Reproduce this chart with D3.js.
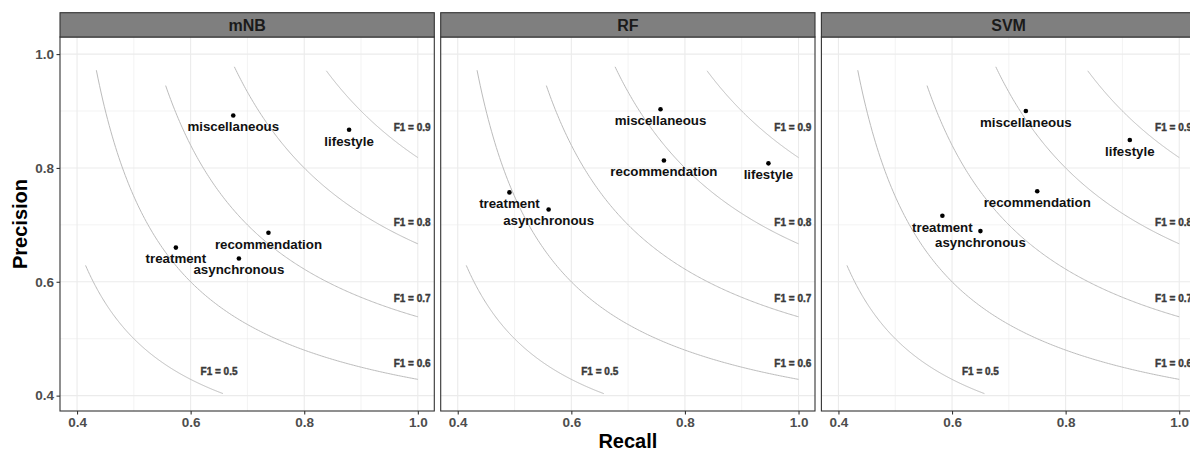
<!DOCTYPE html>
<html>
<head>
<meta charset="utf-8">
<script src="https://cdn.jsdelivr.net/npm/d3@7"></script>
<style>
  html, body { margin: 0; padding: 0; background: #fff; }
  svg { display: block; font-family: "Liberation Sans", Arial, Helvetica, sans-serif; }
</style>
</head>
<body>
<svg id="chart" width="1190" height="451"></svg>
<script>
// ---- data ----
const models = ["mNB", "RF", "SVM"];
const categories = ["miscellaneous", "lifestyle", "recommendation", "treatment", "asynchronous"];
const recallNB   = [0.675, 0.879, 0.737, 0.574, 0.685];
const precisionNB = [0.892, 0.867, 0.686, 0.660, 0.641];
const recallRF   = [0.757, 0.947, 0.763, 0.491, 0.560];
const precisionRF = [0.903, 0.808, 0.813, 0.757, 0.727];
const recallSVM  = [0.730, 0.913, 0.750, 0.583, 0.650];
const precisionSVM = [0.900, 0.849, 0.759, 0.716, 0.689];

const f1Levels = [0.5, 0.6, 0.7, 0.8, 0.9];
const f1CurveStart = [0.415, 0.434, 0.556, 0.677, 0.839];
const f1CurveEnd = [0.657, 1.0, 1.0, 1.0, 1.0];
const f1LabelRecall = [0.65, 0.99, 0.99, 0.99, 0.99];
const f1LabelPrecision = [0.442, 0.456, 0.570, 0.705, 0.871];

const xTicks = [0.4, 0.6, 0.8, 1.0];
const xMinor = [0.5, 0.7, 0.9];
const yTicks = [0.4, 0.6, 0.8, 1.0];
const yMinor = [0.5, 0.7, 0.9];

const seriesRecall = [recallNB, recallRF, recallSVM];
const seriesPrecision = [precisionNB, precisionRF, precisionSVM];

// ---- layout ----
const svg = d3.select("#chart");
const panelLeft = 60, panelW = 374.3, panelStep = 380.7;
const stripTop = 12.7, panelTop = 37, panelBottom = 411;

const y = d3.scaleLinear().domain([0.373, 1.03]).range([panelBottom, panelTop]);

const precOf = (f, r) => f * r / (2 * r - f);

models.forEach((m, i) => {
  const x0 = panelLeft + i * panelStep;
  const x = d3.scaleLinear().domain([0.37, 1.029]).range([x0, x0 + panelW]);
  const g = svg.append("g");

  g.append("rect").attr("x", x0).attr("y", panelTop).attr("width", panelW)
    .attr("height", panelBottom - panelTop).attr("fill", "#fff");

  // minor grid
  g.selectAll(".vmin").data(xMinor).join("line")
    .attr("x1", d => x(d)).attr("x2", d => x(d)).attr("y1", panelTop).attr("y2", panelBottom)
    .attr("stroke", "#ebebeb").attr("stroke-width", 0.6);
  g.selectAll(".hmin").data(yMinor).join("line")
    .attr("y1", d => y(d)).attr("y2", d => y(d)).attr("x1", x0).attr("x2", x0 + panelW)
    .attr("stroke", "#ebebeb").attr("stroke-width", 0.6);
  // major grid
  g.selectAll(".vmaj").data(xTicks).join("line")
    .attr("x1", d => x(d)).attr("x2", d => x(d)).attr("y1", panelTop).attr("y2", panelBottom)
    .attr("stroke", "#ebebeb").attr("stroke-width", 1.1);
  g.selectAll(".hmaj").data(yTicks).join("line")
    .attr("y1", d => y(d)).attr("y2", d => y(d)).attr("x1", x0).attr("x2", x0 + panelW)
    .attr("stroke", "#ebebeb").attr("stroke-width", 1.1);

  // iso-F1 curves
  const line = d3.line().x(d => x(d[0])).y(d => y(d[1]));
  f1Levels.forEach((f, k) => {
    const pts = d3.range(0, 201).map(j => {
      const r = f1CurveStart[k] + (f1CurveEnd[k] - f1CurveStart[k]) * j / 200;
      return [r, precOf(f, r)];
    });
    g.append("path").attr("d", line(pts)).attr("fill", "none")
      .attr("stroke", "#bcbcbc").attr("stroke-width", 1);
    g.append("text").attr("x", x(f1LabelRecall[k])).attr("y", y(f1LabelPrecision[k]))
      .attr("dy", "0.35em").attr("text-anchor", "middle")
      .attr("font-size", 10).attr("font-weight", "bold").attr("fill", "#3a3a3a")
      .attr("stroke", "#3a3a3a").attr("stroke-width", 0.4)
      .text("F1 = " + f.toFixed(1));
  });

  // points
  const rs = seriesRecall[i], ps = seriesPrecision[i];
  g.selectAll(".pt").data(categories).join("circle")
    .attr("cx", (d, k) => x(rs[k])).attr("cy", (d, k) => y(ps[k])).attr("r", 2.3)
    .attr("fill", "#000");
  g.selectAll(".lbl").data(categories).join("text")
    .attr("x", (d, k) => x(rs[k])).attr("y", (d, k) => y(ps[k]) + 11)
    .attr("dy", "0.36em").attr("text-anchor", "middle")
    .attr("font-size", 13.3).attr("font-weight", "bold").attr("fill", "#111")
    .text(d => d);

  // panel border
  g.append("rect").attr("x", x0).attr("y", panelTop).attr("width", panelW)
    .attr("height", panelBottom - panelTop).attr("fill", "none")
    .attr("stroke", "#333").attr("stroke-width", 1.1);

  // strip
  g.append("rect").attr("x", x0).attr("y", stripTop).attr("width", panelW)
    .attr("height", panelTop - stripTop).attr("fill", "#7f7f7f")
    .attr("stroke", "#333").attr("stroke-width", 1.1);
  g.append("text").attr("x", x0 + panelW / 2).attr("y", (stripTop + panelTop) / 2)
    .attr("dy", "0.36em").attr("text-anchor", "middle")
    .attr("font-size", 16).attr("font-weight", "bold").attr("fill", "#1a1a1a")
    .text(m);

  // x axis
  const xAxis = d3.axisBottom(x).tickValues(xTicks).tickFormat(d3.format(".1f"))
    .tickSize(3.5).tickPadding(2.5);
  const ax = g.append("g").attr("transform", `translate(0,${panelBottom})`).call(xAxis);
  ax.select(".domain").remove();
  ax.selectAll(".tick line").attr("stroke", "#333").attr("stroke-width", 1.1);
  ax.selectAll(".tick text").attr("font-size", 13.5).attr("font-weight", "bold")
    .attr("fill", "#4d4d4d").attr("font-family", "Liberation Sans, Arial, sans-serif");

  if (i === 0) {
    const yAxis = d3.axisLeft(y).tickValues(yTicks).tickFormat(d3.format(".1f"))
      .tickSize(3.5).tickPadding(2.5);
    const ay = g.append("g").attr("transform", `translate(${x0},0)`).call(yAxis);
    ay.select(".domain").remove();
    ay.selectAll(".tick line").attr("stroke", "#333").attr("stroke-width", 1.1);
    ay.selectAll(".tick text").attr("font-size", 13.5).attr("font-weight", "bold")
      .attr("fill", "#4d4d4d").attr("font-family", "Liberation Sans, Arial, sans-serif");
  }
});

// axis titles
svg.append("text").attr("x", (panelLeft + panelLeft + 2 * panelStep + panelW) / 2).attr("y", 448)
  .attr("text-anchor", "middle").attr("font-size", 20).attr("font-weight", "bold")
  .attr("fill", "#000").text("Recall");
svg.append("text").attr("transform", `translate(27,${(panelTop + panelBottom) / 2}) rotate(-90)`)
  .attr("text-anchor", "middle").attr("font-size", 20).attr("font-weight", "bold")
  .attr("fill", "#000").text("Precision");
</script>
</body>
</html>
